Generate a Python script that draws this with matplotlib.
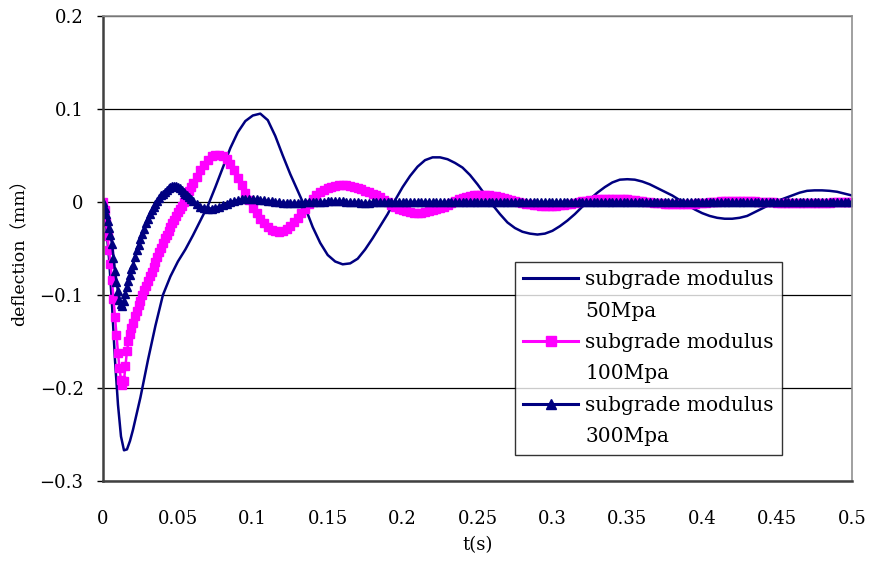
import numpy as np
import matplotlib
matplotlib.use('Agg')
from matplotlib import pyplot as plt
from matplotlib.lines import Line2D

plt.rcParams['font.family'] = ['DejaVu Serif', 'Noto Sans CJK SC', 'DejaVu Sans']

# time grids (s)
t_coarse = np.round(np.concatenate([np.arange(11) * 0.002, 0.025 + np.arange(96) * 0.005]), 5)
t_fine = np.round(np.concatenate([np.arange(20) * 0.001,
                                  0.02 + np.arange(32) * 0.00125,
                                  0.06 + np.arange(177) * 0.0025]), 5)

# subgrade modulus 50Mpa, deflection (mm) on t_coarse
defl_50 = [
    0.000, -0.025, -0.060, -0.110, -0.170, -0.218, -0.252, -0.267, -0.266, -0.257, -0.245,
    -0.210, -0.170, -0.133, -0.100, -0.080, -0.064, -0.051, -0.036, -0.020, -0.004,
    0.016, 0.037, 0.058, 0.075, 0.087, 0.093, 0.095, 0.088, 0.071, 0.050,
    0.030, 0.012, -0.006, -0.027, -0.044, -0.057, -0.064, -0.067, -0.066, -0.061,
    -0.051, -0.039, -0.026, -0.013, 0.002, 0.016, 0.028, 0.038, 0.045, 0.048,
    0.048, 0.046, 0.042, 0.037, 0.029, 0.019, 0.008, -0.003, -0.013, -0.022,
    -0.028, -0.032, -0.034, -0.035, -0.034, -0.031, -0.026, -0.020, -0.013, -0.005,
    0.003, 0.010, 0.016, 0.021, 0.024, 0.0245, 0.024, 0.022, 0.019, 0.015,
    0.011, 0.007, 0.002, -0.003, -0.008, -0.012, -0.015, -0.017, -0.018, -0.018,
    -0.017, -0.015, -0.011, -0.007, -0.003, 0.001, 0.004, 0.007, 0.010, 0.012,
    0.0125, 0.0125, 0.012, 0.011, 0.009, 0.007,
]

# subgrade modulus 100Mpa on t_fine
defl_100 = [
    # 0 .. 0.019
    0.000, -0.009, -0.022, -0.037, -0.052, -0.067, -0.084, -0.104, -0.124, -0.143,
    -0.162, -0.179, -0.191, -0.197, -0.192, -0.176, -0.160, -0.150, -0.142, -0.136,
    # 0.02 .. 0.05875
    -0.130, -0.123, -0.117, -0.111, -0.106, -0.100, -0.095, -0.090,
    -0.085, -0.080, -0.075, -0.070, -0.065, -0.059, -0.054, -0.049,
    -0.044, -0.039, -0.035, -0.031, -0.027, -0.023, -0.019, -0.015,
    -0.011, -0.007, -0.004, 0.000, 0.004, 0.008, 0.012, 0.016,
    # 0.06 .. 0.5
    0.020, 0.027, 0.034, 0.040,
    0.045, 0.049, 0.051, 0.051, 0.049, 0.046, 0.041, 0.034, 0.026, 0.018,
    0.010, 0.002, -0.006, -0.012, -0.018, -0.023, -0.027, -0.030, -0.031, -0.032,
    -0.031, -0.029, -0.026, -0.022, -0.017, -0.012, -0.007, -0.002, 0.003, 0.007,
    0.011, 0.013, 0.015, 0.016, 0.017, 0.018, 0.018, 0.018, 0.017, 0.016,
    0.015, 0.014, 0.012, 0.011, 0.009, 0.007, 0.005, 0.002, 0.000, -0.003,
    -0.005, -0.007, -0.009, -0.010, -0.011, -0.012, -0.012, -0.012, -0.011, -0.010,
    -0.009, -0.008, -0.006, -0.005, -0.003, -0.001, 0.001, 0.003, 0.004, 0.005,
    0.006, 0.007, 0.007, 0.007, 0.007, 0.007, 0.006, 0.006, 0.005, 0.004,
    0.003, 0.002, 0.001, 0.000, -0.001, -0.002, -0.002, -0.003, -0.003, -0.004,
    -0.004, -0.004, -0.004, -0.004, -0.003, -0.003, -0.002, -0.002, -0.001, 0.000,
    0.001, 0.001, 0.002, 0.002, 0.003, 0.003, 0.003, 0.003, 0.003, 0.003,
    0.003, 0.003, 0.003, 0.002, 0.002, 0.001, 0.001, 0.000, 0.000, -0.001,
    -0.001, -0.001, -0.002, -0.002, -0.002, -0.002, -0.002, -0.002, -0.002, -0.002,
    -0.002, -0.001, -0.001, -0.001, 0.000, 0.000, 0.000, 0.001, 0.001, 0.001,
    0.001, 0.001, 0.001, 0.001, 0.001, 0.001, 0.001, 0.000, 0.000, 0.000,
    0.000, 0.000, -0.001, -0.001, -0.001, -0.001, -0.001, -0.001, -0.001, -0.001,
    -0.001, -0.001, -0.001, -0.001, -0.001, -0.001, -0.001, 0.000, 0.000, 0.000,
    0.000, 0.000, 0.000,
]

# subgrade modulus 300Mpa on t_fine
defl_300 = [
    # 0 .. 0.019
    0.000, -0.006, -0.013, -0.020, -0.028, -0.036, -0.045, -0.060, -0.074, -0.086,
    -0.096, -0.105, -0.110, -0.112, -0.106, -0.099, -0.091, -0.085, -0.079, -0.072,
    # 0.02 .. 0.05875
    -0.068, -0.059, -0.052, -0.046, -0.040, -0.034, -0.029, -0.023,
    -0.018, -0.013, -0.009, -0.005, -0.002, 0.001, 0.004, 0.007,
    0.009, 0.011, 0.013, 0.015, 0.016, 0.017, 0.017, 0.017,
    0.016, 0.015, 0.013, 0.011, 0.009, 0.007, 0.005, 0.003,
    # 0.06 .. 0.5
    0.001, -0.002, -0.005, -0.006,
    -0.007, -0.007, -0.006, -0.005, -0.003, -0.002, 0.000, 0.001, 0.002, 0.003,
    0.003, 0.003, 0.003, 0.003, 0.002, 0.002, 0.001, 0.001, 0.000, 0.000,
    -0.001, -0.001, -0.001, -0.001, -0.001, -0.001, 0.000, 0.000, 0.000, 0.000,
    0.000, 0.000, 0.001, 0.001, 0.001, 0.001, 0.001, 0.000, 0.000, 0.000,
    0.000, -0.001, -0.001, -0.001, 0.000, 0.000, 0.000, 0.000, 0.000, 0.000,
    0.000, 0.000, 0.000, 0.000, 0.000, 0.000, 0.000, 0.000, 0.000, 0.000,
    0.000, 0.000, 0.000, 0.000, 0.000, 0.000, 0.000, 0.000, 0.000, 0.000,
    0.000, 0.000, 0.000, 0.000, 0.000, 0.000, 0.000, 0.000, 0.000, 0.000,
    0.000, 0.000, 0.000, 0.000, 0.000, 0.000, 0.000, 0.000, 0.000, 0.000,
    0.000, 0.000, 0.000, 0.000, 0.000, 0.000, 0.000, 0.000, 0.000, 0.000,
    0.000, 0.000, 0.000, 0.000, 0.000, 0.000, 0.000, 0.000, 0.000, 0.000,
    0.000, 0.000, 0.000, 0.000, 0.000, 0.000, 0.000, 0.000, 0.000, 0.000,
    0.000, 0.000, 0.000, 0.000, 0.000, 0.000, 0.000, 0.000, 0.000, 0.000,
    0.000, 0.000, 0.000, 0.000, 0.000, 0.000, 0.000, 0.000, 0.000, 0.000,
    0.000, 0.000, 0.000, 0.000, 0.000, 0.000, 0.000, 0.000, 0.000, 0.000,
    0.000, 0.000, 0.000, 0.000, 0.000, 0.000, 0.000, 0.000, 0.000, 0.000,
    0.000, 0.000, 0.000, 0.000, 0.000, 0.000, 0.000, 0.000, 0.000, 0.000,
    0.000, 0.000, 0.000,
]

series_name = 'subgrade modulus'
moduli = ['50Mpa', '100Mpa', '300Mpa']
x_ticks = [0, 0.05, 0.1, 0.15, 0.2, 0.25, 0.3, 0.35, 0.4, 0.45, 0.5]
x_ticklabels = ['0', '0.05', '0.1', '0.15', '0.2', '0.25', '0.3', '0.35', '0.4', '0.45', '0.5']
y_ticks = [-0.3, -0.2, -0.1, 0, 0.1, 0.2]
y_ticklabels = ['\u22120.3', '\u22120.2', '\u22120.1', '0', '0.1', '0.2']

navy = '#000080'
magenta = '#FF00FF'

fig = plt.figure(figsize=(8.7, 5.61), dpi=100)
ax = fig.add_axes([0.1184, 0.1426, 0.8609, 0.8289])

l50, = ax.plot(t_coarse, defl_50, color=navy, lw=1.8)
l100, = ax.plot(t_fine, defl_100, color=magenta, lw=1.8, marker='s', ms=6,
                mec=magenta, mfc=magenta)
l300, = ax.plot(t_fine, defl_300, color=navy, lw=1.8, marker='^', ms=6.2,
                mec=navy, mfc=navy)

ax.set_xlim(0, 0.5)
ax.set_ylim(-0.3, 0.2)
ax.set_xticks(x_ticks)
ax.set_xticklabels(x_ticklabels)
ax.set_yticks(y_ticks)
ax.set_yticklabels(y_ticklabels)
ax.tick_params(axis='x', length=0, pad=21, labelsize=13)
ax.tick_params(axis='y', length=4, width=1, direction='out', pad=10, labelsize=13)

ax.yaxis.grid(True, color='black', lw=0.9)
ax.set_axisbelow(True)

for side in ['left', 'bottom']:
    ax.spines[side].set_color('#404040')
    ax.spines[side].set_linewidth(1.8)
for side in ['top', 'right']:
    ax.spines[side].set_color('#909090')
    ax.spines[side].set_linewidth(1.2)

ax.set_xlabel('t(s)', fontsize=13, labelpad=6)
ax.set_ylabel('deflection（mm）', fontsize=12.5, labelpad=8)

# legend: name on first row with the handle, modulus on a second row
blank = Line2D([], [], linestyle='none')
handles, texts = [], []
for h, m in zip([l50, l100, l300], moduli):
    handles += [Line2D([], [], color=h.get_color(), lw=2.2, marker=h.get_marker(),
                       ms=7, mec=h.get_color(), mfc=h.get_color()), blank]
    texts += [series_name, m]
leg = ax.legend(handles, texts, loc='upper left', bbox_to_anchor=(0.55, 0.471), fontsize=14.5,
                frameon=True, fancybox=False, edgecolor='black', handlelength=2.75,
                borderpad=0.4, labelspacing=0.62, handletextpad=0.35, borderaxespad=0)
leg.get_frame().set_linewidth(1.0)

fig.savefig('out.png', dpi=100)
